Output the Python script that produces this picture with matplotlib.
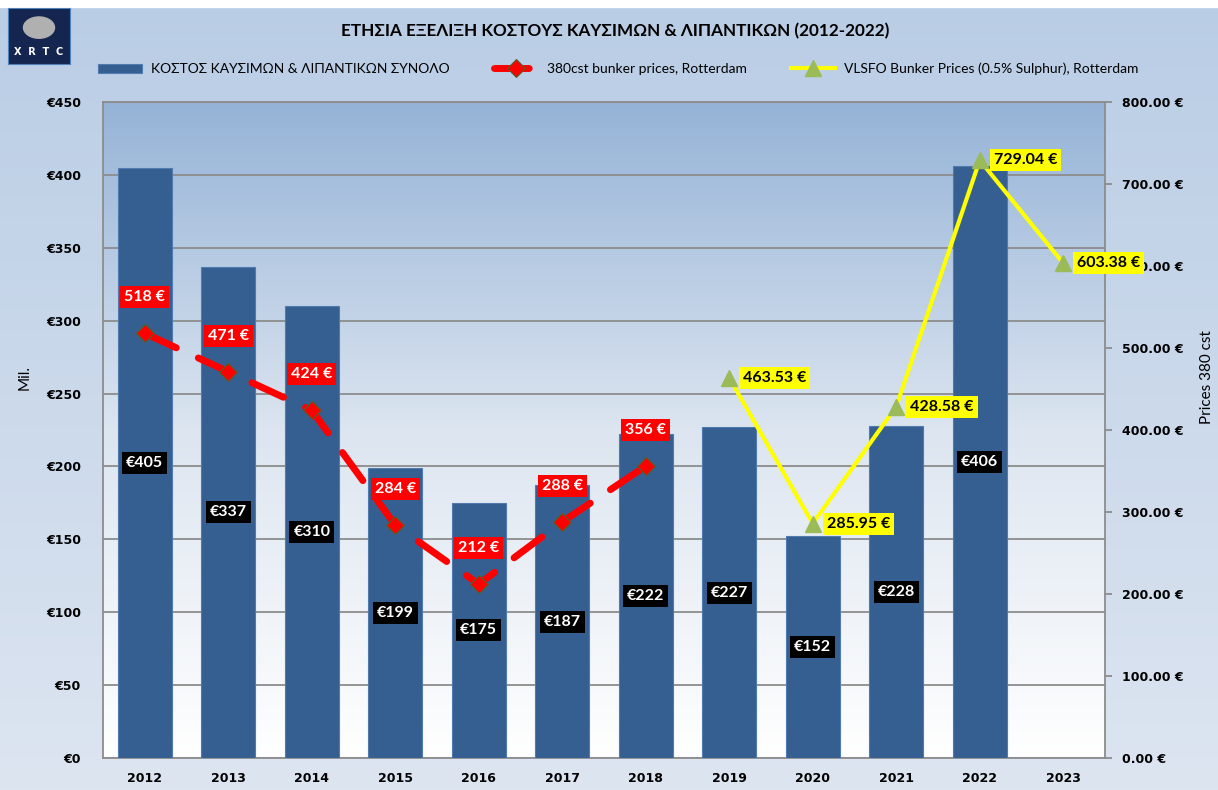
import numpy as np
import matplotlib
matplotlib.use("Agg")
import matplotlib.pyplot as plt
from matplotlib.ticker import FuncFormatter, MultipleLocator
from matplotlib.colors import LinearSegmentedColormap
from matplotlib.patches import Rectangle, Ellipse

years = ["2012", "2013", "2014", "2015", "2016", "2017", "2018", "2019", "2020", "2021", "2022", "2023"]
cost_total = [405, 337, 310, 199, 175, 187, 222, 227, 152, 228, 406, np.nan]
hsfo_380 = [518, 471, 424, 284, 212, 288, 356, np.nan, np.nan, np.nan, np.nan, np.nan]
vlsfo = [np.nan, np.nan, np.nan, np.nan, np.nan, np.nan, np.nan, 463.53, 285.95, 428.58, 729.04, 603.38]

title = "ΕΤΗΣΙΑ ΕΞΕΛΙΞΗ ΚΟΣΤΟΥΣ ΚΑΥΣΙΜΩΝ & ΛΙΠΑΝΤΙΚΩΝ (2012-2022)"
bar_name = "ΚΟΣΤΟΣ ΚΑΥΣΙΜΩΝ & ΛΙΠΑΝΤΙΚΩΝ ΣΥΝΟΛΟ"
red_name = "380cst bunker prices, Rotterdam"
yel_name = "VLSFO Bunker Prices (0.5% Sulphur), Rotterdam"

W, H = 1218, 790
fig = plt.figure(figsize=(W / 100, H / 100), dpi=100)

# figure background gradient
bg = fig.add_axes([0, 0, 1, 1], zorder=-10)
bg_cmap = LinearSegmentedColormap.from_list("bg", ["#dde5f1", "#b9cde5"])
bg.imshow(np.linspace(0, 1, 256).reshape(-1, 1), cmap=bg_cmap, aspect="auto",
          extent=[0, 1, 0, 1], origin="lower")
bg.add_patch(Rectangle((0, 1 - 7 / H), 1, 7 / H, color="white"))
bg.set_xlim(0, 1)
bg.set_ylim(0, 1)
bg.axis("off")

ax = fig.add_axes([103 / W, 1 - 758 / H, (1105 - 103) / W, (758 - 102) / H])
area_cmap = LinearSegmentedColormap.from_list("area", ["#ffffff", "#dce5f0", "#95b3d7"])
ax.imshow(np.linspace(0, 1, 256).reshape(-1, 1), cmap=area_cmap, aspect="auto",
          extent=[0, 1, 0, 1], origin="lower", transform=ax.transAxes, zorder=0)

x = np.arange(len(years))
bars = ax.bar(x, cost_total, width=0.65, color="#365f91", edgecolor="#4f7bb0",
              linewidth=0.8, zorder=3, label=bar_name)
ax.set_xlim(-0.5, len(years) - 0.5)
ax.set_ylim(0, 450)
ax.yaxis.set_major_locator(MultipleLocator(50))
ax.yaxis.set_major_formatter(FuncFormatter(lambda v, p: f"€{v:.0f}"))
ax.grid(axis="y", color="#8c8c8c", linewidth=1.3, zorder=1)
ax.set_axisbelow(True)
ax.set_xticks(x)
ax.set_xticklabels(years)
for s in ax.spines.values():
    s.set_color("#8c8c8c")
    s.set_linewidth(1.3)
ax.tick_params(axis="both", colors="#8c8c8c", labelcolor="black", labelsize=9, length=0, pad=10)
ax.tick_params(axis="y", length=0, pad=16)
for lab in ax.get_xticklabels() + ax.get_yticklabels():
    lab.set_fontweight("bold")
ax.set_ylabel("Mil.", fontsize=11, family="Lato")
ax.yaxis.set_label_coords((32 - 103) / (1105 - 103), 0.58)

for xi, v in zip(x, cost_total):
    if not np.isnan(v):
        ax.text(xi, v / 2, f"€{v:.0f}", ha="center", va="center", color="white",
                fontsize=11.5, fontweight="bold", family="Lato", zorder=6,
                bbox=dict(boxstyle="square,pad=0.25", fc="black", ec="none"))

ax2 = ax.twinx()
ax2.set_ylim(0, 800)
ax2.yaxis.set_major_locator(MultipleLocator(100))
ax2.yaxis.set_major_formatter(FuncFormatter(lambda v, p: f"{v:.2f} €"))
ax2.tick_params(axis="y", colors="#8c8c8c", labelcolor="black", labelsize=9, length=5, width=1.3, pad=7)
for lab in ax2.get_yticklabels():
    lab.set_fontweight("bold")
for s in ax2.spines.values():
    s.set_visible(False)
ax2.set_ylabel("Prices 380 cst", fontsize=11, family="Lato")
ax2.yaxis.set_label_coords((1200 - 103) / (1105 - 103), 0.58)

red_line, = ax2.plot(x, hsfo_380, color="#ff0000", linewidth=5, dashes=(5, 3.5),
                     dash_capstyle="round", marker="D", markersize=9,
                     markerfacecolor="#ff0000", markeredgecolor="#4f6228",
                     markeredgewidth=0.8, zorder=5, label=red_name)
yel_line, = ax2.plot(x, vlsfo, color="#ffff00", linewidth=3, marker="^", markersize=11,
                     markerfacecolor="#9bbb59", markeredgecolor="#9bbb59",
                     zorder=5, label=yel_name)

for xi, v in zip(x, hsfo_380):
    if not np.isnan(v):
        ax2.annotate(f"{v:.0f} €", (xi, v), xytext=(0, 26), textcoords="offset points",
                     ha="center", va="center", color="white", fontsize=11.5,
                     fontweight="bold", family="Lato", zorder=7,
                     bbox=dict(boxstyle="square,pad=0.25", fc="#ff0000", ec="none"))
for xi, v in zip(x, vlsfo):
    if not np.isnan(v):
        ax2.annotate(f"{v:.2f} €", (xi, v), xytext=(10, 0), textcoords="offset points",
                     ha="left", va="center", color="black", fontsize=11.5,
                     fontweight="bold", family="Lato", zorder=7,
                     bbox=dict(boxstyle="square,pad=0.25", fc="#ffff00", ec="none"))

fig.text(615 / W, 1 - 31 / H, title, ha="center", va="center", fontsize=12.3,
         fontweight="bold", family="Lato")

leg = fig.legend(handles=[bars, red_line, yel_line], loc="center", ncol=3,
                 bbox_to_anchor=(618 / W, 1 - 69 / H), frameon=False,
                 prop={"family": "Lato", "size": 10}, columnspacing=3.2,
                 handlelength=3.2, handletextpad=0.6)

# logo
logo = fig.add_axes([8 / W, 1 - 64 / H, 62 / W, 56 / H])
logo.set_facecolor("#14264f")
logo.set_xticks([])
logo.set_yticks([])
for s in logo.spines.values():
    s.set_color("#4f81bd")
logo.add_patch(Ellipse((0.5, 0.65), 0.5, 0.38, color="#b0b0b0"))
logo.text(0.5, 0.22, "X  R  T  C", color="white", ha="center", va="center",
          fontsize=7, fontweight="bold")
logo.set_xlim(0, 1)
logo.set_ylim(0, 1)

fig.savefig("out.png", dpi=100)
